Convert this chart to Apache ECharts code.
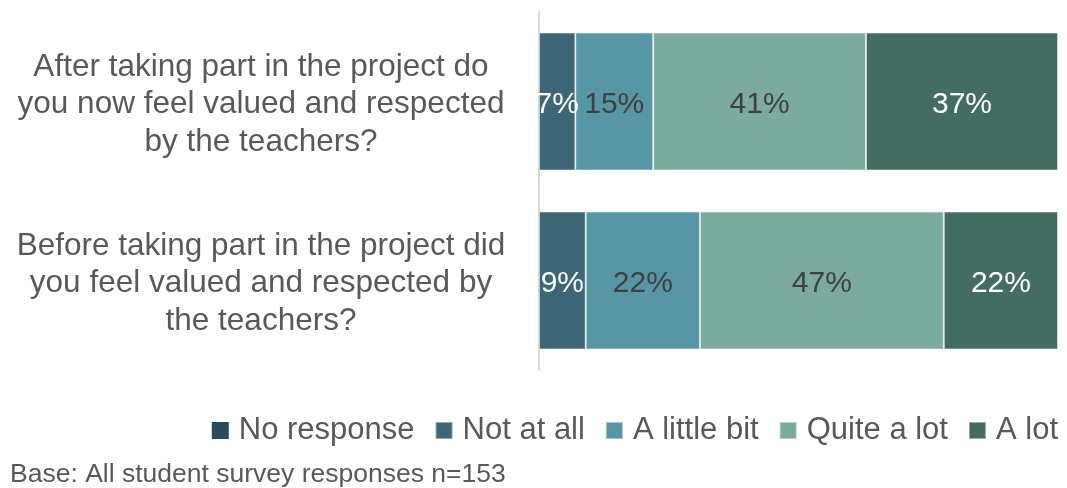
<!DOCTYPE html>
<html>
<head>
<meta charset="utf-8">
<script src="https://cdn.jsdelivr.net/npm/echarts@6/dist/echarts.min.js"></script>
<style>
  html, body { margin: 0; padding: 0; background: #fff; }
  #chart { width: 1067px; height: 488px; }
</style>
</head>
<body>
<div id="chart"></div>
<script>
// Survey questions (top to bottom)
const categories = [
  'After taking part in the project do\nyou now feel valued and respected\nby the teachers?',
  'Before taking part in the project did\nyou feel valued and respected by\nthe teachers?'
];

// Response shares in percent, same order as categories
const noResponse = [0, 0];
const notAtAll   = [7, 9];
const aLittleBit = [15, 22];
const quiteALot  = [41, 47];
const aLot       = [37, 22];

const footnote = 'Base: All student survey responses n=153';

const FONT = '"Liberation Sans", Arial, sans-serif';

function seriesOf(name, data, color, labelColor, showLabel) {
  return {
    name: name,
    type: 'bar',
    stack: 'total',
    data: data,
    barWidth: '77%',
    itemStyle: {
      color: color,
      borderColor: showLabel ? 'rgba(255,255,255,0.45)' : 'transparent',
      borderWidth: showLabel ? 1 : 0
    },
    label: {
      show: showLabel,
      position: 'inside',
      offset: [0, 3],
      formatter: '{c}%',
      color: labelColor,
      fontFamily: FONT,
      fontSize: 30
    },
    emphasis: { disabled: true }
  };
}

const chart = echarts.init(document.getElementById('chart'), null, { renderer: 'canvas' });
chart.setOption({
  animation: false,
  textStyle: { fontFamily: FONT },
  grid: { left: 539, right: 9, top: 12, bottom: 118, containLabel: false },
  xAxis: {
    type: 'value',
    min: 0,
    max: 100,
    show: false
  },
  yAxis: {
    type: 'category',
    data: categories,
    inverse: true,
    axisLine: { show: true, lineStyle: { color: '#d9d9d9', width: 2 } },
    axisTick: { show: false },
    splitLine: { show: false },
    axisLabel: {
      align: 'center',
      margin: 278,
      color: '#595959',
      fontFamily: FONT,
      fontSize: 31.5,
      formatter: (v) => v.split('\n').map((l) => '{q|' + l + '}').join('\n'),
      rich: {
        q: {
          color: '#595959',
          fontFamily: FONT,
          fontSize: 31.5,
          lineHeight: 37.5,
          padding: [6, 0, 0, 0]
        }
      }
    }
  },
  legend: {
    right: 4,
    top: 410,
    icon: 'rect',
    itemWidth: 17,
    itemHeight: 17,
    itemGap: 20,
    textStyle: { color: '#595959', fontSize: 31, fontFamily: FONT, padding: [0, 0, 0, 5] },
    data: ['No response', 'Not at all', 'A little bit', 'Quite a lot', 'A lot']
  },
  graphic: [{
    type: 'text',
    left: 10,
    top: 461,
    style: { text: footnote, fill: '#595959', font: '26.5px ' + FONT }
  }],
  series: [
    seriesOf('No response', noResponse, '#2A4A5E', '#ffffff', false),
    seriesOf('Not at all', notAtAll, '#3D6676', '#ffffff', true),
    seriesOf('A little bit', aLittleBit, '#5796A5', '#404040', true),
    seriesOf('Quite a lot', quiteALot, '#7BAA9F', '#404040', true),
    seriesOf('A lot', aLot, '#436D63', '#ffffff', true)
  ]
});
</script>
</body>
</html>
